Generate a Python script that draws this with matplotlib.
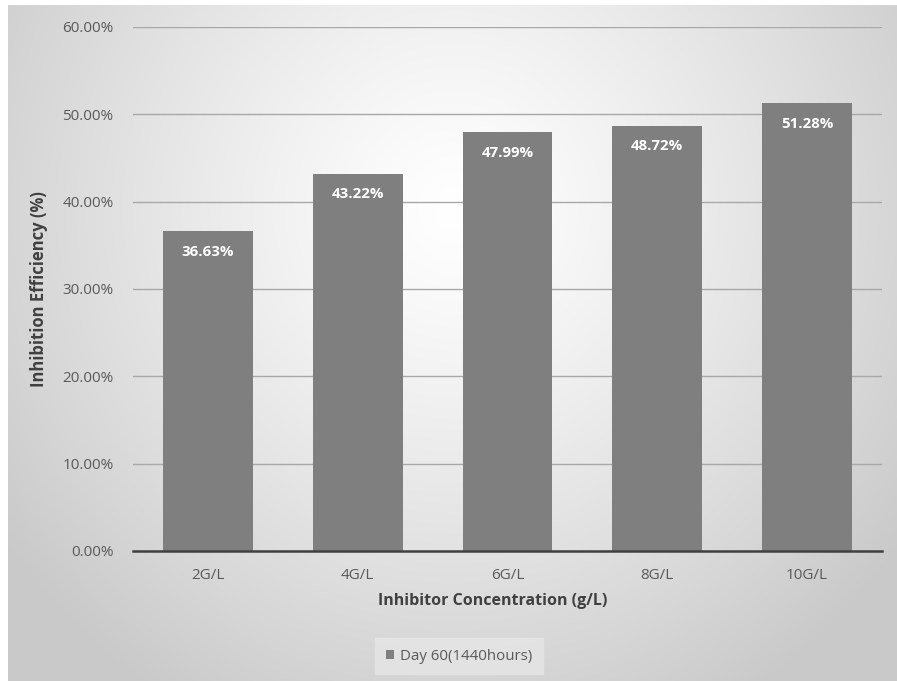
import numpy as np
import matplotlib
matplotlib.use("Agg")
import matplotlib.pyplot as plt

categories = ["2G/L", "4G/L", "6G/L", "8G/L", "10G/L"]
values = [36.63, 43.22, 47.99, 48.72, 51.28]
yticks = [0, 10, 20, 30, 40, 50, 60]
series_name = "Day 60(1440hours)"

W, H = 897, 681
fig = plt.figure(figsize=(W / 100, H / 100), dpi=100)
fig.patch.set_facecolor("white")
plt.rcParams['font.family'] = ['Open Sans', 'DejaVu Sans']

# background radial gradient
bg = fig.add_axes([8 / W, 0, 1 - 8 / W, 1 - 5 / H])
bg.set_axis_off()
ny, nx = 340, 450
yy, xx = np.mgrid[0:ny, 0:nx]
cx, cy = nx * 0.5, ny * 0.3
r = np.sqrt(((xx - cx) / (nx * 0.62)) ** 2 + ((yy - cy) / (ny * 0.85)) ** 2)
r = np.clip(r, 0, 1)
val = 1.0 - 0.21 * r ** 1.2
img = np.dstack([val, val, val])
bg.imshow(img, aspect="auto", extent=[0, 1, 0, 1], origin="upper")
bg.set_xlim(0, 1)
bg.set_ylim(0, 1)

left, right = 133 / W, 882 / W
bottom, top = 1 - 551 / H, 1 - 27 / H
ax = fig.add_axes([left, bottom, right - left, top - bottom])
ax.patch.set_alpha(0)
x = np.arange(len(categories))
bars = ax.bar(x, values, width=0.6, color="#7f7f7f", zorder=3)
ax.set_xlim(-0.5, len(categories) - 0.5)
ax.set_ylim(0, 60)
ax.set_yticks(yticks)
ax.set_yticklabels([f"{v:.2f}%" for v in yticks])
ax.set_xticks(x)
ax.set_xticklabels(categories)
ax.yaxis.grid(True, color="#a8a8a8", linewidth=1, zorder=0)
ax.set_axisbelow(True)
for s in ["top", "right", "left"]:
    ax.spines[s].set_visible(False)
ax.spines["bottom"].set_color("#404040")
ax.spines["bottom"].set_linewidth(1.8)
ax.spines["bottom"].set_zorder(4)
ax.tick_params(axis="both", length=0, labelsize=11, labelcolor="#595959")
ax.tick_params(axis="y", pad=14)
ax.tick_params(axis="x", pad=12)

for xi, v in zip(x, values):
    ax.annotate(f"{v:.2f}%", (xi, v), xytext=(0, -15), textcoords="offset points",
                ha="center", va="center", color="white", fontsize=10.8,
                fontweight="bold", zorder=5)

ax.set_ylabel("Inhibition Efficiency (%)", fontsize=12, fontweight="bold",
              color="#404040", labelpad=10)
ax.set_xlabel("Inhibitor Concentration (g/L)", fontsize=11.5, fontweight="bold",
              color="#404040")
ax.xaxis.set_label_coords((493 - 133) / (882 - 133), -(601 - 551) / (551 - 27))
ax.xaxis.label.set_va("center")

# legend
leg = ax.legend([bars], [series_name], loc="center",
                bbox_to_anchor=((459 - 133) / (882 - 133), -(656 - 551) / (551 - 27)),
                frameon=True, fontsize=10.8, handlelength=0.55, handleheight=0.55,
                handletextpad=0.4, borderpad=0.7, fancybox=False)
leg.get_frame().set_facecolor("#e6e6e6")
leg.get_frame().set_edgecolor("#e6e6e6")
for t in leg.get_texts():
    t.set_color("#595959")

fig.savefig("out.png", dpi=100)
